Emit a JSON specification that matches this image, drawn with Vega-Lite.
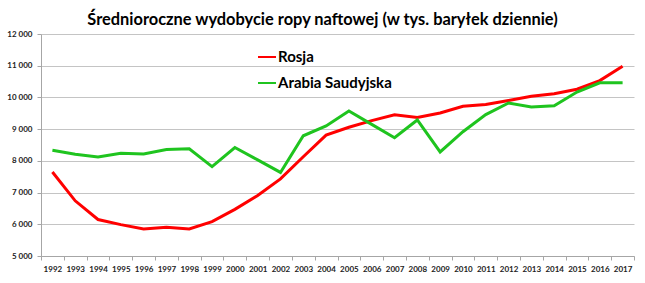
{
  "$schema": "https://vega.github.io/schema/vega-lite/v6.json",
  "autosize": {"type": "none"},
  "width": 593,
  "height": 222,
  "padding": {"left": 41, "top": 34, "right": 11, "bottom": 27},
  "background": "white",
  "title": {
    "text": "Średnioroczne wydobycie ropy naftowej (w tys. baryłek dziennie)",
    "font": "Lato",
    "fontSize": 16.4,
    "fontWeight": "bold",
    "color": "#000000",
    "anchor": "middle",
    "frame": "group",
    "baseline": "alphabetic",
    "offset": 10,
    "dx": -15,
    "dy": 21
  },
  "data": {
    "values": [
      {"rok": "1992", "kraj": "Rosja", "wartosc": 7650},
      {"rok": "1993", "kraj": "Rosja", "wartosc": 6740},
      {"rok": "1994", "kraj": "Rosja", "wartosc": 6150},
      {"rok": "1995", "kraj": "Rosja", "wartosc": 5990},
      {"rok": "1996", "kraj": "Rosja", "wartosc": 5855},
      {"rok": "1997", "kraj": "Rosja", "wartosc": 5910},
      {"rok": "1998", "kraj": "Rosja", "wartosc": 5855},
      {"rok": "1999", "kraj": "Rosja", "wartosc": 6085},
      {"rok": "2000", "kraj": "Rosja", "wartosc": 6470},
      {"rok": "2001", "kraj": "Rosja", "wartosc": 6905},
      {"rok": "2002", "kraj": "Rosja", "wartosc": 7430},
      {"rok": "2003", "kraj": "Rosja", "wartosc": 8130},
      {"rok": "2004", "kraj": "Rosja", "wartosc": 8810},
      {"rok": "2005", "kraj": "Rosja", "wartosc": 9060},
      {"rok": "2006", "kraj": "Rosja", "wartosc": 9270},
      {"rok": "2007", "kraj": "Rosja", "wartosc": 9450},
      {"rok": "2008", "kraj": "Rosja", "wartosc": 9370},
      {"rok": "2009", "kraj": "Rosja", "wartosc": 9510},
      {"rok": "2010", "kraj": "Rosja", "wartosc": 9720},
      {"rok": "2011", "kraj": "Rosja", "wartosc": 9780},
      {"rok": "2012", "kraj": "Rosja", "wartosc": 9905},
      {"rok": "2013", "kraj": "Rosja", "wartosc": 10040},
      {"rok": "2014", "kraj": "Rosja", "wartosc": 10115},
      {"rok": "2015", "kraj": "Rosja", "wartosc": 10260},
      {"rok": "2016", "kraj": "Rosja", "wartosc": 10530},
      {"rok": "2017", "kraj": "Rosja", "wartosc": 10980},
      {"rok": "1992", "kraj": "Arabia Saudyjska", "wartosc": 8335},
      {"rok": "1993", "kraj": "Arabia Saudyjska", "wartosc": 8210},
      {"rok": "1994", "kraj": "Arabia Saudyjska", "wartosc": 8125},
      {"rok": "1995", "kraj": "Arabia Saudyjska", "wartosc": 8240},
      {"rok": "1996", "kraj": "Arabia Saudyjska", "wartosc": 8220},
      {"rok": "1997", "kraj": "Arabia Saudyjska", "wartosc": 8355},
      {"rok": "1998", "kraj": "Arabia Saudyjska", "wartosc": 8380},
      {"rok": "1999", "kraj": "Arabia Saudyjska", "wartosc": 7820},
      {"rok": "2000", "kraj": "Arabia Saudyjska", "wartosc": 8420},
      {"rok": "2001", "kraj": "Arabia Saudyjska", "wartosc": 8030},
      {"rok": "2002", "kraj": "Arabia Saudyjska", "wartosc": 7635},
      {"rok": "2003", "kraj": "Arabia Saudyjska", "wartosc": 8790},
      {"rok": "2004", "kraj": "Arabia Saudyjska", "wartosc": 9100},
      {"rok": "2005", "kraj": "Arabia Saudyjska", "wartosc": 9570},
      {"rok": "2006", "kraj": "Arabia Saudyjska", "wartosc": 9150},
      {"rok": "2007", "kraj": "Arabia Saudyjska", "wartosc": 8730},
      {"rok": "2008", "kraj": "Arabia Saudyjska", "wartosc": 9290},
      {"rok": "2009", "kraj": "Arabia Saudyjska", "wartosc": 8280},
      {"rok": "2010", "kraj": "Arabia Saudyjska", "wartosc": 8920},
      {"rok": "2011", "kraj": "Arabia Saudyjska", "wartosc": 9460},
      {"rok": "2012", "kraj": "Arabia Saudyjska", "wartosc": 9825},
      {"rok": "2013", "kraj": "Arabia Saudyjska", "wartosc": 9700},
      {"rok": "2014", "kraj": "Arabia Saudyjska", "wartosc": 9740},
      {"rok": "2015", "kraj": "Arabia Saudyjska", "wartosc": 10170},
      {"rok": "2016", "kraj": "Arabia Saudyjska", "wartosc": 10460},
      {"rok": "2017", "kraj": "Arabia Saudyjska", "wartosc": 10460}
    ]
  },
  "mark": {"type": "line", "strokeWidth": 3, "strokeJoin": "miter", "clip": false},
  "encoding": {
    "x": {
      "field": "rok",
      "type": "ordinal",
      "bandPosition": 0.5,
      "scale": {"type": "band", "paddingInner": 0, "paddingOuter": 0},
      "axis": {
        "title": null,
        "labelAngle": 0,
        "labelFont": "Lato",
        "labelFontSize": 8,
        "labelFontWeight": "bold",
        "labelColor": "#222222",
        "labelPadding": 5,
        "tickBand": "extent",
        "tickSize": 4,
        "tickColor": "#A6A6A6",
        "domainColor": "#A6A6A6",
        "grid": false
      }
    },
    "y": {
      "field": "wartosc",
      "type": "quantitative",
      "scale": {"domain": [5000, 12000], "nice": false, "zero": false},
      "axis": {
        "title": null,
        "values": [5000, 6000, 7000, 8000, 9000, 10000, 11000, 12000],
        "labelExpr": "replace(format(datum.value, ','), ',', ' ')",
        "labelFont": "Lato",
        "labelFontSize": 8,
        "labelFontWeight": "bold",
        "labelColor": "#222222",
        "labelPadding": 5,
        "tickSize": 4,
        "tickColor": "#A6A6A6",
        "domainColor": "#A6A6A6",
        "grid": true,
        "gridColor": "#C4C4C4",
        "gridWidth": 1
      }
    },
    "color": {
      "field": "kraj",
      "type": "nominal",
      "sort": ["Rosja", "Arabia Saudyjska"],
      "scale": {"domain": ["Rosja", "Arabia Saudyjska"], "range": ["#FF0000", "#1FC41F"]},
      "legend": {
        "title": null,
        "orient": "none",
        "legendX": 216,
        "legendY": 13,
        "padding": 0,
        "symbolType": "stroke",
        "symbolSize": 324,
        "symbolStrokeWidth": 2,
        "labelFont": "Lato",
        "labelFontSize": 15,
        "labelFontWeight": "bold",
        "labelColor": "#000000",
        "labelOffset": 1,
        "rowPadding": 8
      }
    }
  },
  "config": {
    "view": {"stroke": null}
  }
}
